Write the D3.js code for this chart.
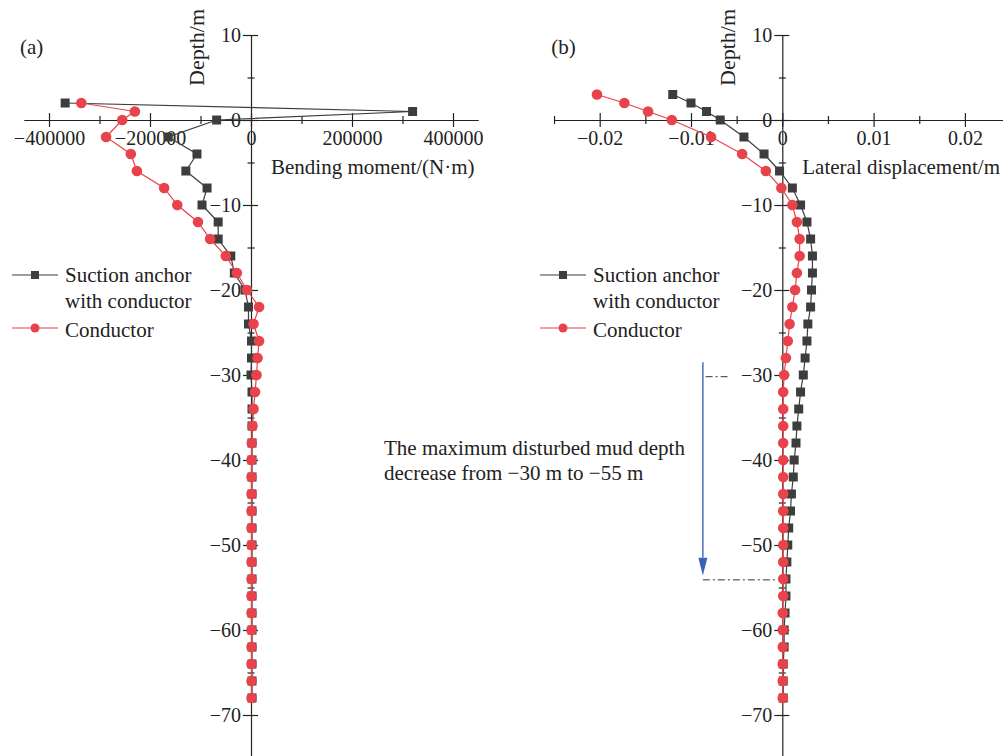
<!DOCTYPE html>
<html>
<head>
<meta charset="utf-8">
<script src="https://cdn.jsdelivr.net/npm/d3@7"></script>
<style>
  body { margin: 0; background: #fff; }
  svg { display: block; font-family: 'Liberation Serif', 'Times New Roman', serif; }
  .axis path, .axis line { stroke: #222; stroke-width: 1.2; }
  .axis text { font-family: 'Liberation Serif', 'Times New Roman', serif; font-size: 20px; fill: #222; }
</style>
</head>
<body>
<div id="canvas"></div>
<script>
// depths (m) for each panel
var depthA = [2, 1, 0, -2, -4, -6, -8, -10, -12, -14, -16, -18, -20, -22, -24, -26, -28, -30, -32, -34,
              -36, -38, -40, -42, -44, -46, -48, -50, -52, -54, -56, -58, -60, -62, -64, -66, -68];
var depthB = [3, 2, 1, 0, -2, -4, -6, -8, -10, -12, -14, -16, -18, -20, -22, -24, -26, -28, -30, -32, -34,
              -36, -38, -40, -42, -44, -46, -48, -50, -52, -54, -56, -58, -60, -62, -64, -66, -68];

// (a) bending moment, N·m
var momentAnchor = [-368000, 320000, -68000, -164000, -107000, -129000, -87000, -97000, -65000, -65000,
                    -40000, -33000, -12000, -5000, -5000, 1000, 1000, 0, 2000, 2000,
                    2000, 2000, 2000, 2000, 2000, 2000, 2000, 2000, 2000, 2000,
                    2000, 2000, 2000, 2000, 2000, 2000, 2000];
var momentConductor = [-336000, -230000, -255000, -287000, -238000, -226000, -172000, -146000, -105000, -81000,
                       -50000, -28000, -8000, 16000, 5000, 16000, 13000, 11000, 8000, 5000,
                       3000, 1500, 1000, 1000, 1000, 1000, 1000, 1000, 1000, 1000,
                       1000, 1000, 1000, 1000, 1000, 1000, 1000];

// (b) lateral displacement, m
var dispAnchor = [-0.0120, -0.0100, -0.0083, -0.0068, -0.0042, -0.0020, -0.0003, 0.0011, 0.0020, 0.0027,
                  0.0031, 0.0033, 0.0033, 0.0032, 0.0031, 0.0028, 0.0027, 0.0025, 0.0023, 0.0020,
                  0.0018, 0.0016, 0.0015, 0.0013, 0.0012, 0.0010, 0.0009, 0.0007, 0.0006, 0.0005,
                  0.0004, 0.0004, 0.0003, 0.0002, 0.0002, 0.0001, 0.0001, 0.0001];
var dispConductor = [-0.0203, -0.0173, -0.0147, -0.0121, -0.0078, -0.0044, -0.0018, -0.0001, 0.0011, 0.0016,
                     0.0019, 0.0019, 0.0016, 0.0014, 0.0011, 0.0008, 0.0006, 0.0004, 0.0002, 0.0001,
                     0.0001, 0.0001, 0.0001, 0.0001, 0.0001, 0.0001, 0.0001, 0.0001, 0.0001, 0.0001,
                     0.0001, 0.0001, 0.00005, 0.00005, 0.00005, 0.00005, 0.00005, 0.00005];

var xTicksA = [-400000, -200000, 0, 200000, 400000];
var xMinorA = [-300000, -100000, 100000, 300000];
var xTicksB = [-0.02, -0.01, 0, 0.01, 0.02];
var xMinorB = [-0.025, -0.015, -0.005, 0.005, 0.015, 0.025];
var yTicks = [10, 0, -10, -20, -30, -40, -50, -60, -70];
var yMinor = [5, -5, -15, -25, -35, -45, -55, -65];

var seriesNames = ['Suction anchor', 'with conductor', 'Conductor'];
var dark = '#3d3d3d', red = '#e8434b', blue = '#3a63b5';

var W = 1003, H = 756;
var svg = d3.select('#canvas').append('svg')
    .attr('width', W).attr('height', H);

var scaleY = d3.scaleLinear().domain([10, -75]).range([35, 757.5]);

function panel(opt){
    var g = svg.append('g');
    var scaleX = d3.scaleLinear().domain(opt.domain).range(opt.range);
    var x0 = scaleX(0), y0 = scaleY(0);

    // x axis
    var axX = g.append('g').attr('class', 'axis')
        .attr('transform', 'translate(0,' + y0 + ')')
        .call(d3.axisBottom(scaleX).tickValues(opt.ticks).tickFormat(opt.fmt).tickSizeOuter(0));
    axX.selectAll('.tick line').attr('y1', -7).attr('y2', 7);
    axX.selectAll('.tick text').attr('y', 11);
    var minX = g.append('g').attr('class', 'axis')
        .attr('transform', 'translate(0,' + y0 + ')')
        .call(d3.axisBottom(scaleX).tickValues(opt.minor).tickFormat('').tickSizeOuter(0));
    minX.select('.domain').remove();
    minX.selectAll('.tick line').attr('y1', -4).attr('y2', 4);

    // y axis
    var axY = g.append('g').attr('class', 'axis')
        .attr('transform', 'translate(' + x0 + ',0)')
        .call(d3.axisLeft(scaleY).tickValues(yTicks).tickFormat(d3.format('d')).tickSizeOuter(0));
    axY.selectAll('.tick line').attr('x1', -8).attr('x2', 7);
    axY.selectAll('.tick text').attr('x', -10);
    var minY = g.append('g').attr('class', 'axis')
        .attr('transform', 'translate(' + x0 + ',0)')
        .call(d3.axisLeft(scaleY).tickValues(yMinor).tickFormat('').tickSizeOuter(0));
    minY.select('.domain').remove();
    minY.selectAll('.tick line').attr('x1', -3.5).attr('x2', 3.5);

    // axis titles
    g.append('text')
        .attr('transform', 'translate(' + (x0 - 47) + ',86) rotate(-90)')
        .style('font-size', '22px').attr('fill', '#222')
        .text('Depth/m');
    g.append('text')
        .attr('x', x0 + 20).attr('y', 174)
        .style('font-size', '21px').attr('fill', '#222')
        .text(opt.xTitle);
    g.append('text')
        .attr('x', x0 - 231).attr('y', 54)
        .style('font-size', '21px').attr('fill', '#222')
        .text(opt.tag);

    // series
    var line = d3.line()
        .x(function(d){ return scaleX(d.v); })
        .y(function(d){ return scaleY(d.z); });

    var anchor = opt.depth.map(function(z, i){ return {z: z, v: opt.anchor[i]}; });
    var cond = opt.depth.map(function(z, i){ return {z: z, v: opt.cond[i]}; });

    g.append('path').datum(anchor)
        .attr('fill', 'none').attr('stroke', dark).attr('stroke-width', 1.2)
        .attr('d', line);
    g.selectAll('.sq').data(anchor).enter().append('rect')
        .attr('class', 'sq')
        .attr('x', function(d){ return scaleX(d.v) - 4.5; })
        .attr('y', function(d){ return scaleY(d.z) - 4.5; })
        .attr('width', 9).attr('height', 9)
        .attr('fill', dark);

    g.append('path').datum(cond)
        .attr('fill', 'none').attr('stroke', red).attr('stroke-width', 1.2)
        .attr('d', line);
    g.selectAll('.ci').data(cond).enter().append('circle')
        .attr('class', 'ci')
        .attr('cx', function(d){ return scaleX(d.v); })
        .attr('cy', function(d){ return scaleY(d.z); })
        .attr('r', 5.3)
        .attr('fill', red);

    // legend
    var lg = g.append('g').attr('transform', 'translate(' + opt.legendX + ',0)');
    lg.append('line').attr('x1', 0).attr('x2', 46).attr('y1', 275).attr('y2', 275)
        .attr('stroke', dark).attr('stroke-width', 1.2);
    lg.append('rect').attr('x', 19).attr('y', 271).attr('width', 8).attr('height', 8).attr('fill', dark);
    lg.append('line').attr('x1', 0).attr('x2', 46).attr('y1', 328).attr('y2', 328)
        .attr('stroke', red).attr('stroke-width', 1.2);
    lg.append('circle').attr('cx', 23).attr('cy', 328).attr('r', 4.5).attr('fill', red);
    lg.selectAll('.lt').data(seriesNames).enter().append('text')
        .attr('class', 'lt')
        .attr('x', 53)
        .attr('y', function(d, i){ return [281.5, 307.5, 336.5][i]; })
        .style('font-size', '21px').attr('fill', '#222')
        .text(function(d){ return d; });

    return scaleX;
}

panel({
    domain: [-450000, 450000], range: [23.75, 478.25],
    ticks: xTicksA, minor: xMinorA, fmt: d3.format('d'),
    xTitle: 'Bending moment/(N\u00b7m)', tag: '(a)',
    depth: depthA, anchor: momentAnchor, cond: momentConductor,
    legendX: 12
});

var scaleXB = panel({
    domain: [-0.025, 0.025], range: [554.05, 1010.55],
    ticks: xTicksB, minor: xMinorB,
    fmt: function(d){ return d === 0 ? '0' : d3.format('.2f')(d); },
    xTitle: 'Lateral displacement/m', tag: '(b)',
    depth: depthB, anchor: dispAnchor, cond: dispConductor,
    legendX: 540
});

// annotation in panel (b)
var note = svg.append('g');
var arrowX = scaleXB(-0.0087);
note.append('line')
    .attr('x1', arrowX).attr('x2', arrowX)
    .attr('y1', scaleY(-28.5)).attr('y2', scaleY(-51.5))
    .attr('stroke', blue).attr('stroke-width', 1.4);
note.append('path')
    .attr('d', 'M' + (arrowX - 4.5) + ',' + scaleY(-51.5) +
               'L' + (arrowX + 4.5) + ',' + scaleY(-51.5) +
               'L' + arrowX + ',' + scaleY(-53.6) + 'Z')
    .attr('fill', blue);
note.append('line')
    .attr('x1', scaleXB(-0.0084)).attr('x2', scaleXB(-0.0058))
    .attr('y1', scaleY(-30.2)).attr('y2', scaleY(-30.2))
    .attr('stroke', '#333').attr('stroke-width', 1).attr('stroke-dasharray', '7,3,2,3');
note.append('line')
    .attr('x1', scaleXB(-0.0087)).attr('x2', scaleXB(-0.0006))
    .attr('y1', scaleY(-54.1)).attr('y2', scaleY(-54.1))
    .attr('stroke', '#333').attr('stroke-width', 1).attr('stroke-dasharray', '7,3,2,3');
note.selectAll('text').data(['The maximum disturbed mud depth', 'decrease from \u221230 m to \u221255 m'])
    .enter().append('text')
    .attr('x', 384)
    .attr('y', function(d, i){ return 455 + i * 25; })
    .style('font-size', '21px').attr('fill', '#222')
    .text(function(d){ return d; });
</script>
</body>
</html>
